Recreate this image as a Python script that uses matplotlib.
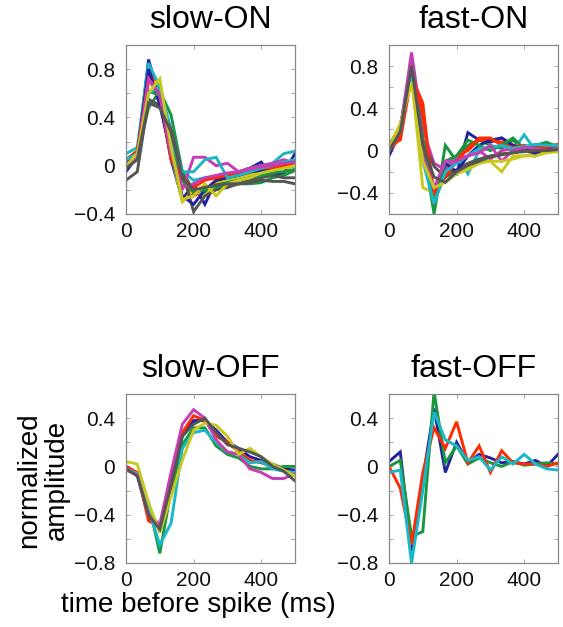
import numpy as np
import matplotlib
matplotlib.use("Agg")
import matplotlib.pyplot as plt
from matplotlib.ticker import MultipleLocator

plt.rcParams['font.family'] = ['Liberation Sans', 'DejaVu Sans']

# time before spike (ms), one sample per frame
t = np.linspace(0, 500, 16)

colors = ['#22229e', '#1a9641', '#ff2a00', '#18b8c8', '#c83cb4', '#c8c81e', '#555555']

slow_on = [
    [-0.05, 0.08, 0.88, 0.55, 0.05, -0.28, -0.15, -0.32, -0.12, -0.18, -0.05, -0.02, 0.03, -0.08, -0.06, 0.10],
    [0.00, 0.08, 0.48, 0.62, 0.42, -0.05, -0.20, -0.22, -0.18, -0.16, -0.15, -0.15, -0.14, -0.10, -0.08, -0.04],
    [0.02, 0.10, 0.75, 0.68, 0.10, -0.12, -0.25, -0.20, -0.14, -0.10, -0.08, -0.06, -0.05, -0.03, -0.02, 0.00],
    [0.10, 0.15, 0.85, 0.65, 0.30, -0.05, -0.12, -0.10, -0.10, -0.08, -0.05, -0.02, 0.00, 0.02, 0.10, 0.12],
    [0.05, 0.12, 0.70, 0.60, 0.15, -0.20, 0.07, 0.07, 0.00, 0.02, -0.05, -0.02, 0.00, 0.02, 0.05, 0.02],
    [0.00, 0.10, 0.68, 0.70, 0.10, -0.30, -0.20, -0.25, -0.15, -0.12, -0.10, -0.08, -0.05, -0.05, -0.02, 0.00],
    [-0.12, -0.05, 0.55, 0.50, 0.30, -0.05, -0.38, -0.25, -0.20, -0.18, -0.15, -0.12, -0.10, -0.08, -0.10, -0.10],
    [0.02, 0.10, 0.80, 0.50, 0.10, -0.25, -0.32, -0.20, -0.12, -0.10, -0.08, -0.05, -0.04, -0.03, 0.00, 0.00],
    [0.00, 0.05, 0.62, 0.58, 0.20, -0.12, -0.22, -0.20, -0.16, -0.14, -0.12, -0.10, -0.08, -0.06, -0.05, -0.03],
    [0.05, 0.12, 0.72, 0.60, 0.05, -0.10, -0.18, -0.12, -0.10, -0.08, -0.06, -0.04, -0.02, -0.02, 0.00, 0.01],
    [0.05, 0.10, 0.60, 0.65, 0.20, -0.05, -0.05, 0.05, 0.07, -0.10, -0.08, -0.05, -0.02, 0.00, 0.03, 0.05],
    [0.00, 0.08, 0.72, 0.58, 0.10, -0.18, -0.15, -0.10, -0.08, -0.06, -0.05, -0.03, -0.01, 0.00, 0.02, 0.03],
    [0.00, 0.10, 0.60, 0.72, 0.15, -0.28, -0.25, -0.15, -0.25, -0.15, -0.12, -0.10, -0.06, -0.04, -0.02, 0.00],
    [-0.02, 0.05, 0.52, 0.48, 0.28, -0.10, -0.20, -0.18, -0.16, -0.15, -0.15, -0.14, -0.12, -0.13, -0.13, -0.15],
]

fast_on = [
    [0.00, 0.20, 0.80, 0.10, -0.40, -0.15, -0.22, 0.17, 0.10, 0.08, 0.12, 0.05, 0.02, -0.05, 0.02, 0.00],
    [0.02, 0.18, 0.75, 0.05, -0.60, 0.05, -0.10, 0.05, 0.10, 0.05, 0.02, 0.10, 0.00, 0.03, 0.06, 0.05],
    [0.05, 0.10, 0.70, 0.45, -0.50, -0.20, -0.05, 0.00, 0.10, 0.10, 0.08, 0.05, 0.03, 0.02, 0.04, 0.05],
    [0.02, 0.15, 0.80, 0.05, -0.50, -0.15, -0.05, -0.22, 0.00, 0.02, 0.05, 0.00, 0.15, 0.00, 0.05, 0.03],
    [0.00, 0.20, 0.93, 0.20, -0.12, -0.18, -0.08, -0.05, 0.00, -0.08, 0.00, 0.02, 0.01, 0.03, 0.02, 0.03],
    [0.05, 0.25, 0.70, -0.35, -0.40, -0.25, -0.20, -0.15, -0.10, -0.10, -0.20, -0.05, -0.05, -0.03, 0.00, 0.00],
    [0.00, 0.15, 0.82, 0.10, -0.15, -0.25, -0.18, -0.12, -0.08, -0.05, -0.03, -0.02, 0.00, 0.00, 0.01, 0.01],
    [-0.05, 0.18, 0.78, 0.00, -0.45, -0.12, -0.20, -0.05, 0.05, 0.10, 0.12, 0.05, 0.02, -0.03, 0.03, 0.00],
    [0.05, 0.20, 0.85, 0.10, -0.45, -0.10, -0.05, 0.10, 0.05, 0.00, 0.05, 0.12, 0.02, 0.05, 0.08, 0.03],
    [0.00, 0.12, 0.75, 0.35, -0.40, -0.25, -0.10, 0.02, 0.12, 0.12, 0.05, 0.03, 0.05, 0.02, 0.03, 0.06],
    [0.00, 0.18, 0.75, -0.10, -0.50, -0.20, -0.12, -0.05, 0.02, 0.03, 0.05, 0.02, 0.04, 0.06, 0.05, 0.05],
    [0.03, 0.22, 0.85, -0.05, -0.35, -0.10, -0.10, -0.05, -0.02, 0.05, -0.10, 0.00, 0.03, 0.02, 0.00, 0.02],
    [0.02, 0.25, 0.65, -0.10, -0.35, -0.30, -0.22, -0.18, -0.12, -0.10, -0.10, -0.08, -0.05, -0.05, -0.02, -0.01],
    [0.00, 0.18, 0.80, 0.05, -0.25, -0.30, -0.20, -0.14, -0.10, -0.06, -0.04, -0.02, -0.01, 0.00, 0.00, 0.01],
]

slow_off = [
    [0.00, -0.06, -0.42, -0.50, -0.12, 0.25, 0.38, 0.38, 0.30, 0.20, 0.15, 0.08, 0.05, 0.02, -0.02, -0.03],
    [-0.02, -0.06, -0.30, -0.72, -0.20, 0.18, 0.32, 0.32, 0.17, 0.10, 0.07, 0.00, -0.02, -0.02, 0.00, 0.00],
    [0.00, -0.05, -0.45, -0.50, -0.15, 0.28, 0.42, 0.38, 0.25, 0.20, 0.12, 0.05, 0.03, 0.00, -0.03, -0.06],
    [-0.02, -0.06, -0.35, -0.65, -0.47, 0.15, 0.28, 0.30, 0.20, 0.12, 0.10, 0.03, 0.04, -0.02, -0.04, -0.05],
    [-0.03, -0.07, -0.40, -0.48, -0.05, 0.35, 0.47, 0.40, 0.22, 0.12, 0.10, -0.02, -0.05, -0.10, -0.10, -0.06],
    [0.04, 0.02, -0.30, -0.55, -0.25, 0.05, 0.30, 0.36, 0.34, 0.25, 0.10, 0.15, 0.08, 0.02, -0.03, -0.08],
    [-0.02, -0.08, -0.40, -0.52, -0.15, 0.25, 0.35, 0.40, 0.28, 0.18, 0.15, 0.12, 0.08, 0.00, -0.04, -0.12],
]

fast_off = [
    [0.04, 0.12, -0.70, -0.10, 0.48, -0.05, 0.20, 0.03, 0.10, 0.07, 0.03, 0.04, 0.02, 0.05, 0.00, 0.10],
    [0.00, 0.05, -0.58, -0.54, 0.62, 0.03, 0.17, 0.02, 0.07, 0.03, 0.00, 0.04, 0.01, 0.02, 0.03, 0.02],
    [0.00, -0.18, -0.65, -0.05, 0.32, 0.15, 0.37, 0.03, 0.17, -0.05, 0.13, 0.03, 0.02, 0.02, 0.00, 0.03],
    [-0.05, -0.03, -0.80, -0.20, 0.45, 0.22, 0.17, 0.05, 0.08, -0.03, 0.08, 0.02, 0.10, 0.02, -0.02, -0.03],
]

titles = ['slow-ON', 'fast-ON', 'slow-OFF', 'fast-OFF']
panels = [slow_on, fast_on, slow_off, fast_off]
ylims = [(-0.4, 1.0), (-0.6, 1.0), (-0.8, 0.6), (-0.8, 0.6)]
yticks = [[-0.4, 0, 0.4, 0.8], [-0.4, 0, 0.4, 0.8], [-0.8, -0.4, 0, 0.4], [-0.8, -0.4, 0, 0.4]]


def fmt(v):
    if v == 0:
        return '0'
    return str(v).replace('-', '\u2212')


W, H = 563, 627
fig = plt.figure(figsize=(W / 100, H / 100), dpi=100)

boxes = [(126, 45), (389, 45), (126, 394), (389, 394)]
for i in range(4):
    x0, y0 = boxes[i]
    ax = fig.add_axes([x0 / W, 1 - (y0 + 169) / H, 169 / W, 169 / H])
    for j, y in enumerate(panels[i]):
        ax.plot(t, y, color=colors[j % 7], lw=2.1, solid_joinstyle='miter')
    ax.set_xlim(0, 500)
    ax.set_ylim(*ylims[i])
    ax.set_xticks([0, 200, 400])
    ax.set_yticks(yticks[i])
    ax.set_yticklabels([fmt(v) for v in yticks[i]])
    ax.yaxis.set_minor_locator(MultipleLocator(0.2))
    ax.tick_params(which='both', direction='in', top=True, right=True,
                   length=3, width=0.6, color='#999999', labelsize=15,
                   labelcolor='#111111')
    ax.tick_params(axis='x', pad=6)
    ax.tick_params(axis='y', pad=8)
    for s in ax.spines.values():
        s.set_color('#888888')
        s.set_linewidth(0.9)
    ax.set_title(titles[i], fontsize=23, pad=12)

fig.text(43 / W, 1 - 480 / H, 'normalized\namplitude', rotation=90,
         ha='center', va='center', fontsize=20, linespacing=1.1)
fig.text(198 / W, 1 - 605 / H, 'time before spike (ms)', ha='center',
         va='center', fontsize=20)

fig.savefig('out.png', dpi=100)
